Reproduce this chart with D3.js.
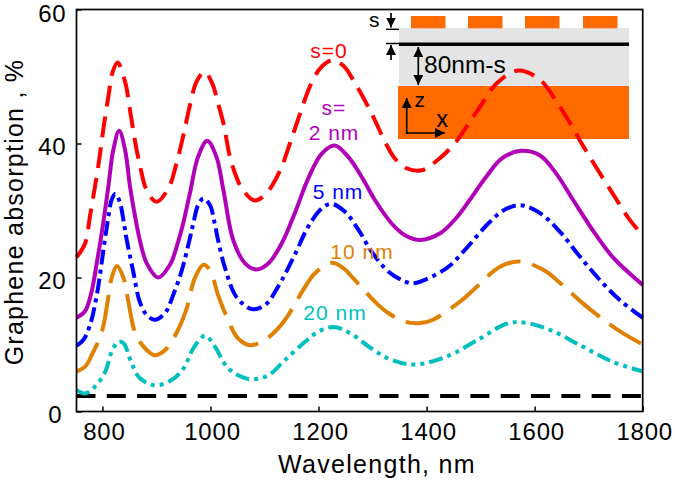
<!DOCTYPE html>
<html><head><meta charset="utf-8">
<script src="https://cdn.jsdelivr.net/npm/d3@7/dist/d3.min.js"></script>
<style>html,body{margin:0;padding:0;background:#fff}text{font-family:"Liberation Sans",Arial,sans-serif}</style>
</head><body><svg id="c" width="675" height="482"></svg>
<script>
const xTicks=[800,1000,1200,1400,1600,1800];
const yTicks=[0,20,40,60];
const wl0=[752,768,777,792,802,811,819,828,842,851,860,870,882,900,922,937,950,962,974,989,1003,1014,1024,1036,1048,1058,1082,1104,1129,1147,1166,1184,1203,1224,1246,1264,1295,1326,1341,1363,1391,1420,1452,1474,1499,1530,1570,1610,1641,1671,1687,1758,1776,1800];
const s0=[23,25.1,29.2,36.5,42.3,47,50.7,52.1,49.2,45,40.5,36.5,33,31.3,33.3,37,41.3,45.7,49.2,50.7,49,46,43,38,35,33.3,31.5,32.6,36,40,44.5,48.5,51.2,52.4,51.6,49.5,45,39.8,37.8,36.3,36,37.5,40,42.5,45.5,49,50.9,49.5,46.2,42.3,40,30.8,28.6,26.3];
const wl2=[752,768,780,789,799,811,820,831,842,851,860,870,882,903,925,940,948,962,977,994,1011,1024,1042,1064,1085,1107,1132,1156,1181,1206,1230,1255,1280,1304,1335,1360,1388,1425,1456,1480,1510,1540,1575,1610,1640,1671,1708,1745,1800];
const s2=[14,15,17.9,21.9,26.8,33.6,39,41.9,39,33.6,29.3,25.3,22.1,20,21.9,25.3,27.6,32.6,38,40.4,38,33,25.6,22.1,21.2,22.1,25.1,29.6,34.8,38.5,39.7,38,35,31.6,28.1,26.3,25.6,26.6,29,31.6,35,37.8,38.9,38.2,35.5,31.6,27,23,18.9];
const wl5=[752,765,777,789,805,811,817,824,832,840,845,857,869,882,897,916,931,947,962,968,977,987,999,1008,1014,1027,1048,1076,1101,1125,1156,1181,1206,1224,1249,1274,1298,1329,1360,1377,1437,1474,1511,1542,1573,1610,1647,1684,1721,1758,1800];
const s5=[9.8,10.7,12.9,17.1,25.9,29,31.6,32.5,31.3,28,25.6,20.9,16.4,14.4,13.7,14.7,17.4,21.1,25.9,28,30.8,31.8,30.8,28,25.6,21.4,17.1,15.3,15.9,18.6,23.4,27.6,30.3,31,29.8,27.1,23.9,20.9,19.4,19.15,21.4,24.4,27.8,30,30.8,29.6,26.8,23.1,19.6,16.6,14];
const wl10=[752,768,780,799,811,817,827,839,848,860,876,897,919,944,956,971,987,999,1014,1027,1051,1073,1101,1125,1144,1175,1193,1224,1246,1264,1308,1329,1360,1388,1412,1465,1486,1536,1573,1619,1641,1690,1708,1761,1800];
const s10=[6,6.7,8.4,11.9,17.1,19.9,21.7,19.9,16.4,11.9,9.7,8.4,9.4,12.9,15.4,19.9,21.9,21.1,17.4,14.7,10.9,9.9,10.7,12.4,14.4,18.6,20.6,22.2,21.4,19.9,16.1,14.7,13.4,13.2,13.7,16.6,18.1,21.6,22.4,21,19.6,16.1,14.9,11.8,10];
const wl20=[752,768,786,805,817,829,839,854,869,897,928,950,968,990,1008,1030,1051,1076,1107,1138,1175,1199,1227,1258,1298,1335,1377,1437,1499,1548,1579,1628,1684,1745,1800];
const s20=[3.2,2.7,3.7,5.9,8.9,10.4,10.2,7.2,5,3.9,4.7,6.4,9.4,11.3,9.7,6.7,5.4,4.8,5.4,7.7,10.4,11.9,12.6,11.7,9.4,7.7,7,8.2,10.9,13.1,13.3,12.2,9.9,7.4,6];
const wlRef=[752,1800];
const refLevel=[2.3,2.3];
const series=[
 {x:wlRef,y:refLevel,color:"#000",dash:"19 11.3",w:4},
 {x:wl20,y:s20,color:"#00bfbf",dash:"14 5 4 5 4 5",w:4},
 {x:wl10,y:s10,color:"#e08000",dash:"37 12",w:4},
 {x:wl5,y:s5,color:"#0000ff",dash:"15 5 4 5",w:4},
 {x:wl2,y:s2,color:"#b000b8",dash:null,w:4},
 {x:wl0,y:s0,color:"#ff0000",dash:"21 10",w:4}
];
const labels=[["s=0",329,58,"#ff0000"],["s=",334,115,"#b000c0"],["2 nm",334,140,"#b000c0"],["5 nm",338,199,"#0000ff"],["10 nm",362,259,"#e08000"],["20 nm",335,320,"#00bfbf"]];

const svg=d3.select("#c");
const L=76.5,R=642.7,T=9.5,B=411.5;
const x=d3.scaleLinear().domain([752,1800]).range([L,R]);
const y=d3.scaleLinear().domain([0,60]).range([B,T]);

// inset
const o="#ff6a00",g="#e4e4e4";
svg.append("rect").attr("x",399).attr("y",28).attr("width",230).attr("height",58).attr("fill",g);
svg.append("rect").attr("x",398).attr("y",86).attr("width",231).attr("height",53).attr("fill",o);
[411,468,525,583].forEach(a=>svg.append("rect").attr("x",a).attr("y",16).attr("width",34.5).attr("height",12.3).attr("fill",o));
svg.append("line").attr("x1",399).attr("x2",629).attr("y1",44.2).attr("y2",44.2).attr("stroke","#000").attr("stroke-width",3.5);
const defs=svg.append("defs");
defs.append("marker").attr("id","ah").attr("viewBox","0 0 10 10").attr("refX",10).attr("refY",5).attr("markerWidth",10).attr("markerHeight",10).attr("markerUnits","userSpaceOnUse").attr("orient","auto-start-reverse").append("path").attr("d","M0,0L10,5L0,10Z").attr("fill","#000");
const arrow=(x1,y1,x2,y2,both)=>{const l=svg.append("line").attr("x1",x1).attr("y1",y1).attr("x2",x2).attr("y2",y2).attr("stroke","#000").attr("stroke-width",1.7).attr("marker-end","url(#ah)");if(both)l.attr("marker-start","url(#ah)");};
arrow(391,13,391,27.5);
arrow(391,60,391,45);
svg.append("line").attr("x1",386).attr("x2",399).attr("y1",29.3).attr("y2",29.3).attr("stroke","#000").attr("stroke-width",1.5);
svg.append("line").attr("x1",386).attr("x2",399).attr("y1",43.5).attr("y2",43.5).attr("stroke","#000").attr("stroke-width",1.5);
arrow(418.3,47,418.3,85,true);
arrow(406.7,134,406.7,98);
arrow(406,133,445,133);
const itxt=(t,a,b,s)=>svg.append("text").attr("x",a).attr("y",b).attr("font-size",s).attr("fill","#000").text(t);
itxt("80nm-s",424,73,24.5);
itxt("z",414.5,107,21);
itxt("x",436.5,127,23);
itxt("s",369,27,21);

// curves
const line=d3.line().curve(d3.curveCatmullRom.alpha(0.5));
series.forEach(s=>{
 svg.append("path").attr("d",line(s.x.map((v,i)=>[x(v),y(s.y[i])]))).attr("fill","none").attr("stroke",s.color).attr("stroke-width",s.w).attr("stroke-dasharray",s.dash);
});

// frame & axes
svg.append("rect").attr("x",L).attr("y",T).attr("width",R-L).attr("height",B-T).attr("fill","none").attr("stroke","#000").attr("stroke-width",1.7);
const ax=svg.append("g").attr("transform",`translate(0,${B})`).call(d3.axisBottom(x).tickValues(xTicks).tickSize(-5).tickPadding(11.5).tickFormat(d3.format("d")));
const ay=svg.append("g").attr("transform",`translate(${L},0)`).call(d3.axisLeft(y).tickValues(yTicks).tickSize(-5).tickPadding(10).tickFormat(d3.format("d")));
[ax,ay].forEach(a=>{a.select(".domain").remove();a.selectAll("line").attr("stroke","#000").attr("stroke-width",1.5);a.selectAll("text").attr("font-size",24).attr("letter-spacing",0.8).attr("fill","#000").style("font-family",'"Liberation Sans",Arial,sans-serif');});
ax.selectAll("text").attr("dx",1.5);
ay.selectAll("text").attr("dy","0.44em");
ay.selectAll("text").filter(d=>d===0).attr("dx",-4);
ay.selectAll("text").filter(d=>d===60).attr("dy","0.52em");
svg.append("text").attr("x",377).attr("y",473).attr("text-anchor","middle").attr("font-size",25).attr("letter-spacing",1.3).text("Wavelength, nm");
svg.append("text").attr("transform","translate(22.5,212) rotate(-90)").attr("text-anchor","middle").attr("font-size",25).attr("letter-spacing",1.25).text("Graphene absorption , %");
labels.forEach(l=>svg.append("text").attr("x",l[1]).attr("y",l[2]).attr("text-anchor","middle").attr("font-size",21).attr("letter-spacing",1).attr("fill",l[3]).text(l[0]));
</script></body></html>
